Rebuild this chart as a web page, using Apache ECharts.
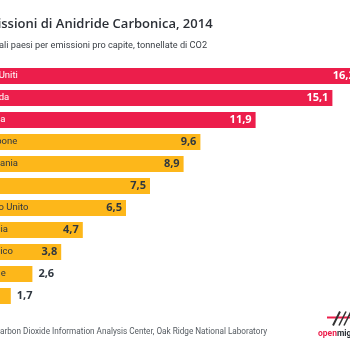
<!DOCTYPE html>
<html>
<head>
<meta charset="utf-8">
<script src="https://cdn.jsdelivr.net/npm/echarts@6/dist/echarts.min.js"></script>
<style>
  html, body { margin: 0; padding: 0; background: #fff; }
  #chart { width: 350px; height: 350px; }
</style>
</head>
<body>
<div id="chart"></div>
<script>
// dati: emissioni pro capite 2014 (tonnellate di CO2)
var paesi = ['Stati Uniti', 'Canada', 'Russia', 'Giappone', 'Germania', 'Cina',
             'Regno Unito', 'Francia', 'Messico', 'Brasile', 'India'];
var emissioni = [16.2, 15.1, 11.9, 9.6, 8.9, 7.5, 6.5, 4.7, 3.8, 2.6, 1.7];
var nRossi = 3;

var ROSSO = '#EC1E4B';
var GIALLO = '#FDB71A';
var SCURO = '#2f3740';

function virgola(v) { return String(v).replace('.', ','); }

var dati = emissioni.map(function (v, i) {
    var rosso = i < nRossi;
    var fuori = v < 3;
    return {
        value: v,
        itemStyle: { color: rosso ? ROSSO : GIALLO },
        label: {
            position: fuori ? 'right' : 'insideRight',
            distance: fuori ? 6 : 4,
            color: rosso ? '#fff' : SCURO
        }
    };
});

var myChart = echarts.init(document.getElementById('chart'));
// il grafico è "tagliato" a sinistra: lo zero cade fuori dall'area visibile
var option = {
    animation: false,
    title: [{
        text: 'Emissioni di Anidride Carbonica, 2014',
        left: -27, top: 12.5,
        textStyle: { fontFamily: 'Open Sans', fontSize: 13, fontWeight: 600, color: '#2b2f36' }
    }, {
        text: 'I principali paesi per emissioni pro capite, tonnellate di CO2',
        left: -38.5, top: 36,
        textStyle: { fontFamily: 'Roboto', fontSize: 9.2, fontWeight: 'normal', color: '#3a3f45' }
    }, {
        text: 'Fonte: Carbon Dioxide Information Analysis Center, Oak Ridge National Laboratory',
        left: -35, top: 322.5,
        textStyle: { fontFamily: 'Roboto', fontSize: 8.2, fontWeight: 'normal', color: '#555b61' }
    }],
    grid: { left: 0, right: 0, top: 65, height: 242, outerBoundsMode: 'none', containLabel: false },
    xAxis: {
        type: 'value', min: 1.25, max: 15.8333,
        show: false
    },
    yAxis: {
        type: 'category',
        data: paesi,
        inverse: true,
        offset: 30,
        axisLine: { show: false, onZero: false },
        axisTick: { show: false },
        axisLabel: {
            inside: true,
            margin: 7,
            fontFamily: 'Roboto',
            fontSize: 9.5,
            color: function (val, idx) { return idx < nRossi ? '#fff' : SCURO; }
        },
        z: 10
    },
    series: [{
        type: 'bar',
        data: dati,
        barWidth: 16,
        clip: false,
        label: {
            show: true,
            fontFamily: 'Open Sans',
            fontSize: 11,
            fontWeight: 'bold',
            formatter: function (p) { return virgola(p.value); }
        }
    }],
    graphic: [{
        type: 'group', left: 318, top: 309,
        children: [
            { type: 'line', shape: { x1: 9, y1: 6, x2: 40, y2: 6 }, style: { stroke: ROSSO, lineWidth: 2 } },
            { type: 'line', shape: { x1: 15, y1: 14, x2: 22, y2: 0 }, style: { stroke: '#333', lineWidth: 2 } },
            { type: 'line', shape: { x1: 21, y1: 14, x2: 28, y2: 0 }, style: { stroke: '#333', lineWidth: 1.5 } },
            { type: 'line', shape: { x1: 26, y1: 14, x2: 33, y2: 0 }, style: { stroke: '#333', lineWidth: 1.5 } },
            {
                type: 'text', left: 0, top: 18,
                style: {
                    text: '{a|open}{b|migration}',
                    rich: {
                        a: { fontFamily: 'Roboto', fontSize: 8.5, fontWeight: 'bold', fill: ROSSO },
                        b: { fontFamily: 'Roboto', fontSize: 8.5, fontWeight: 'bold', fill: '#2b2f36' }
                    }
                }
            }
        ]
    }]
};
myChart.setOption(option);
</script>
</body>
</html>
